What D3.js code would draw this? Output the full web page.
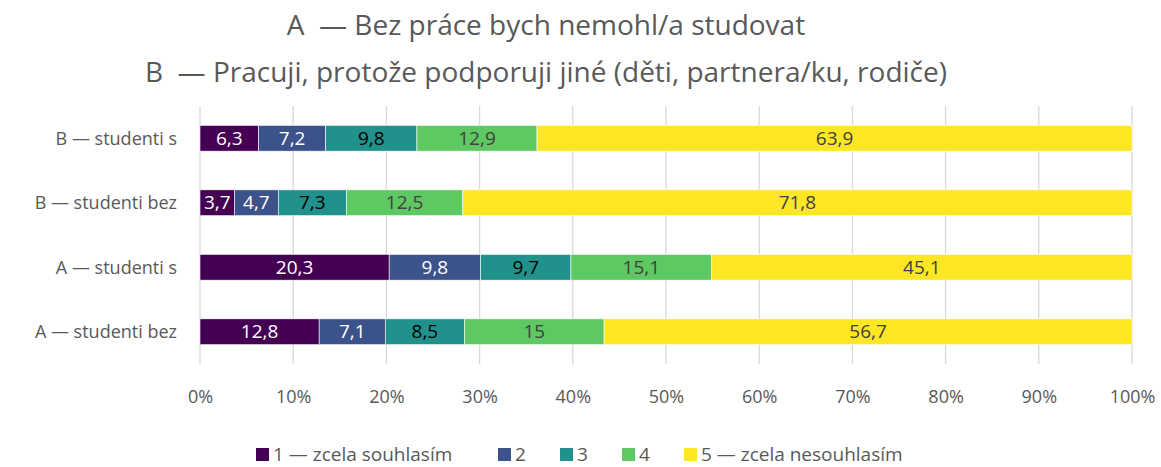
<!DOCTYPE html>
<html>
<head>
<meta charset="utf-8">
<script src="https://cdn.jsdelivr.net/npm/d3@7"></script>
<style>
  body { margin: 0; background: #fff; }
  svg text { font-family: "Open Sans", sans-serif; }
</style>
</head>
<body>
<script>
const titleLines = ["A  — Bez práce bych nemohl/a studovat",
                    "B  — Pracuji, protože podporuji jiné (děti, partnera/ku, rodiče)"];
const categories = ["B — studenti s", "B — studenti bez", "A — studenti s", "A — studenti bez"];
const seriesNames = ["1 — zcela souhlasím", "2", "3", "4", "5 — zcela nesouhlasím"];
const s1 = [6.3, 3.7, 20.3, 12.8];
const s2 = [7.2, 4.7, 9.8, 7.1];
const s3 = [9.8, 7.3, 9.7, 8.5];
const s4 = [12.9, 12.5, 15.1, 15];
const s5 = [63.9, 71.8, 45.1, 56.7];
const xTicks = [0, 0.1, 0.2, 0.3, 0.4, 0.5, 0.6, 0.7, 0.8, 0.9, 1];

const colors = ["#440154", "#3b528b", "#21918c", "#5ec962", "#fde725"];
const labelColors = ["#ffffff", "#ffffff", "#000000", "#404040", "#404040"];

const W = 1161, H = 467;
const plot = { left: 200, right: 1132, top: 106, bottom: 364 };

const svg = d3.select("body").append("svg")
    .attr("width", W)
    .attr("height", H);

// rows for the stack (100% stacked, normalised per row)
const allSeries = [s1, s2, s3, s4, s5];
const rows = categories.map((c, i) => {
    let r = { cat: c };
    let total = d3.sum(allSeries, s => s[i]);
    allSeries.forEach((s, k) => { r["k" + k] = s[i] / total; r["v" + k] = s[i]; });
    return r;
});
const keys = allSeries.map((s, k) => "k" + k);
const stacked = d3.stack().keys(keys)(rows);

const x = d3.scaleLinear().domain([0, 1]).range([plot.left, plot.right]);
const y = d3.scaleBand().domain(categories)
    .range([plot.top, plot.bottom]).paddingInner(0.6).paddingOuter(0.3);

// gridlines
svg.append("g")
    .selectAll("line")
    .data(xTicks)
    .enter().append("line")
    .attr("x1", d => x(d)).attr("x2", d => x(d))
    .attr("y1", plot.top).attr("y2", plot.bottom)
    .attr("stroke", "#d9d9d9")
    .attr("stroke-width", 1.3);

// bars
const layers = svg.append("g")
    .selectAll("g")
    .data(stacked)
    .enter().append("g")
    .attr("fill", (d, i) => colors[i]);

layers.selectAll("rect")
    .data(d => d)
    .enter().append("rect")
    .attr("x", d => x(d[0]))
    .attr("y", d => y(d.data.cat))
    .attr("width", d => x(d[1]) - x(d[0]))
    .attr("height", y.bandwidth())
    .attr("stroke", "#fff")
    .attr("stroke-width", 0.6);

// value labels
layers.each(function(layer, i) {
    d3.select(this).selectAll("text")
        .data(layer)
        .enter().append("text")
        .attr("x", d => (x(d[0]) + x(d[1])) / 2)
        .attr("y", d => y(d.data.cat) + y.bandwidth() / 2)
        .attr("dy", "0.35em")
        .attr("text-anchor", "middle")
        .attr("fill", labelColors[i])
        .style("font-size", "19px")
        .text(d => String(d.data["v" + i]).replace(".", ","));
});

// category axis
svg.append("g")
    .selectAll("text")
    .data(categories)
    .enter().append("text")
    .attr("x", 177)
    .attr("y", d => y(d) + y.bandwidth() / 2)
    .attr("dy", "0.35em")
    .attr("text-anchor", "end")
    .attr("fill", "#595959")
    .style("font-size", "18px")
    .text(d => d);

// x axis
const xAxis = svg.append("g")
    .attr("transform", "translate(0," + plot.bottom + ")")
    .call(d3.axisBottom(x).tickValues(xTicks).tickFormat(d3.format(".0%")).tickSize(0).tickPadding(26));
xAxis.select(".domain").remove();
xAxis.selectAll("text")
    .attr("fill", "#595959")
    .style("font-size", "18px");

// title
svg.append("g")
    .selectAll("text")
    .data(titleLines)
    .enter().append("text")
    .attr("x", 546)
    .attr("y", (d, i) => 25 + i * 47)
    .attr("dy", "0.35em")
    .attr("text-anchor", "middle")
    .attr("fill", "#595959")
    .style("font-size", "28px")
    .style("white-space", "pre")
    .text(d => d);

// legend
const legendX = [256, 498, 560, 622, 684];
const legend = svg.append("g")
    .selectAll("g")
    .data(seriesNames)
    .enter().append("g")
    .attr("transform", (d, i) => "translate(" + legendX[i] + ",454)");
legend.append("rect")
    .attr("x", 0).attr("y", -6)
    .attr("width", 13).attr("height", 13)
    .attr("fill", (d, i) => colors[i]);
legend.append("text")
    .attr("x", 17)
    .attr("dy", "0.35em")
    .attr("fill", "#595959")
    .style("font-size", "19px")
    .text(d => d);
</script>
</body>
</html>
